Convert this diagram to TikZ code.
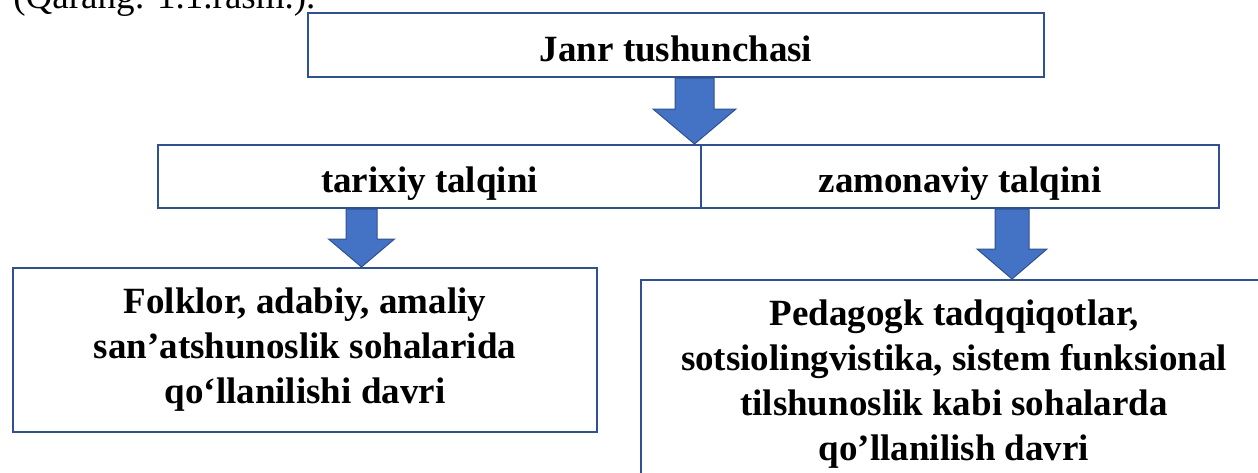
\documentclass[tikz,border=0pt]{standalone}
\usepackage{fontspec}
\setmainfont{Liberation Serif}
\usepackage{xcolor}
\usepackage{tikz}
\usetikzlibrary{calc}

\definecolor{boxline}{HTML}{2F528F}
\definecolor{arrowblue}{HTML}{4472C4}

% block arrow: from, tip, shaft half width, head half width, head length
\newcommand{\blockarrow}[5]{%
  \filldraw[arrowbody] ($(#1)+(-#3,0)$) -- ($(#1)+(#3,0)$) -- ($(#2)+(#3,-#5)$) -- ($(#2)+(#4,-#5)$)
    -- (#2) -- ($(#2)+(-#4,-#5)$) -- ($(#2)+(-#3,-#5)$) -- cycle;}

\begin{document}
\begin{tikzpicture}[x=0.5pt, y=-0.5pt,
    box/.style={draw=boxline, line width=1pt, fill=white, align=center, inner sep=0pt,
      font=\bfseries\fontsize{18.5}{22.5}\selectfont},
    oneline/.style={text height=20.5pt, text depth=4.5pt},
    arrowbody/.style={fill=arrowblue, draw=boxline, line width=0.5pt}]
        \useasboundingbox (0,0) rectangle (1258,472);
        \clip (0,0) rectangle (1258,472);

        % Caption line cut by the page edge
        \node[anchor=base west, inner sep=0pt, font=\fontsize{18.5}{22.5}\selectfont] (ref) at (13,8) {(Qarang: 1.1.rasm.).};

        % Top box
        \node[box, oneline, minimum width=368pt, minimum height=32pt] (janr) at (676,45) {Janr tushunchasi};

        % Two interpretations
        \node[box, oneline, minimum width=271.5pt, minimum height=31.5pt] (tarixiy) at (429.5,176.5) {tarixiy talqini};
        \node[box, oneline, minimum width=259pt, minimum height=31.5pt] (zamon) at (960,176.5) {zamonaviy talqini};

        % Fields of use
        \node[box, minimum width=292pt, minimum height=82pt] (folklor) at (305,350)
            {Folklor, adabiy, amaliy\\san’atshunoslik sohalarida\\qo‘llanilishi davri};
        \node[box, minimum width=313pt, minimum height=104pt] (pedagog) at (954,384)
            {Pedagogk tadqqiqotlar,\\sotsiolingvistika, sistem funksional\\tilshunoslik kabi sohalarda\\qo’llanilish davri};

        % Block arrows
        \coordinate (a1) at ($(janr.south)+(18.5,0)$);
        \coordinate (t1) at (a1 |- tarixiy.north);
        \coordinate (a2) at ($(tarixiy.south)+(-68,0)$);
        \coordinate (t2) at (a2 |- folklor.north);
        \coordinate (a3) at ($(zamon.south)+(52,0)$);
        \coordinate (t3) at (a3 |- pedagog.north);
        \blockarrow{a1}{t1}{19.5}{41.5}{35}
        \blockarrow{a2}{t2}{15.5}{33}{28}
        \blockarrow{a3}{t3}{17}{35}{30}
    \end{tikzpicture}
\end{document}
